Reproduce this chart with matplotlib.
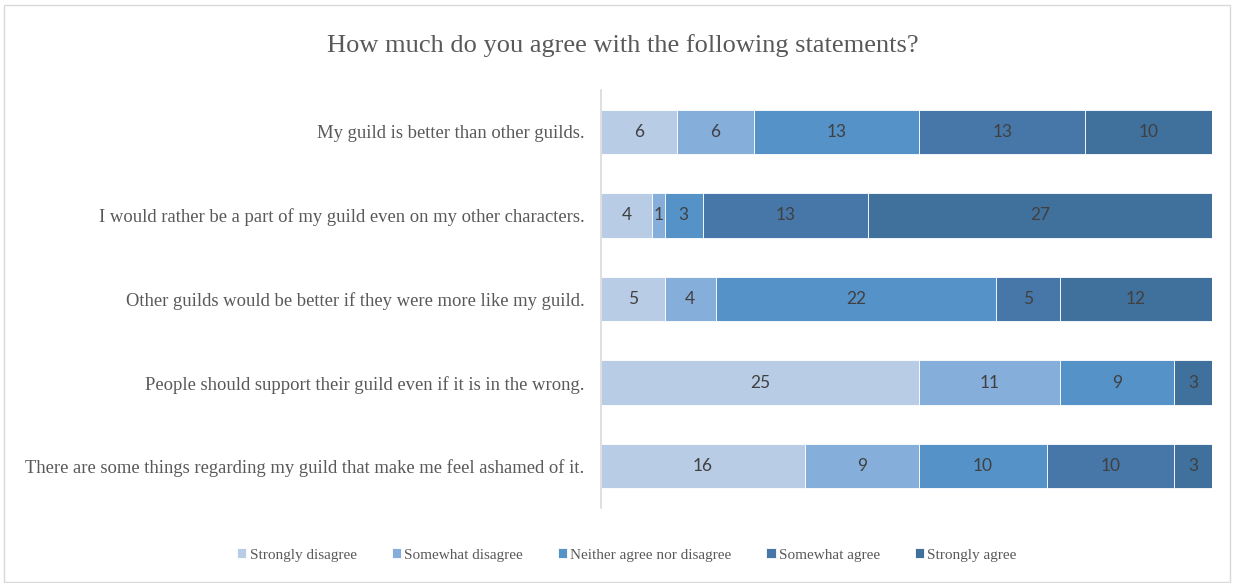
import matplotlib
matplotlib.use("Agg")
import matplotlib.pyplot as plt
from matplotlib.patches import Rectangle
import numpy as np

statements = [
    "My guild is better than other guilds.",
    "I would rather be a part of my guild even on my other characters.",
    "Other guilds would be better if they were more like my guild.",
    "People should support their guild even if it is in the wrong.",
    "There are some things regarding my guild that make me feel ashamed of it.",
]
responses = [
    "Strongly disagree",
    "Somewhat disagree",
    "Neither agree nor disagree",
    "Somewhat agree",
    "Strongly agree",
]
strongly_disagree = [6, 4, 5, 25, 16]
somewhat_disagree = [6, 1, 4, 11, 9]
neither = [13, 3, 22, 9, 10]
somewhat_agree = [13, 13, 5, 0, 10]
strongly_agree = [10, 27, 12, 3, 3]

colors = ["#B8CCE6", "#86AEDB", "#5592C8", "#4677A8", "#40709C"]
series = [strongly_disagree, somewhat_disagree, neither, somewhat_agree, strongly_agree]

serif = "Liberation Serif"
label_font = "Lato"

fig = plt.figure(figsize=(12.34, 5.83), dpi=100)
fig.patches.append(Rectangle((0.003, 0.002), 0.994, 0.990, transform=fig.transFigure,
                             fill=False, edgecolor="#D9D9D9", linewidth=1.0))

ax = fig.add_axes([0.487, 0.1286, 0.4955, 0.717])
y = np.arange(len(statements))
left = np.zeros(len(statements))
for vals, col, name in zip(series, colors, responses):
    vals = np.array(vals, dtype=float)
    ax.barh(y, vals, left=left, height=0.53, color=col, edgecolor="white",
            linewidth=0.6, label=name)
    for yi, v, l in zip(y, vals, left):
        if v > 0:
            ax.text(l + v / 2, yi, f"{int(v)}", ha="center", va="center",
                    fontsize=12.5, color="#404040", family=label_font)
    left += vals

ax.set_xlim(0, 48)
ax.set_ylim(len(statements) - 0.5, -0.5)
ax.set_yticks(y)
ax.set_yticklabels(statements, family=serif, fontsize=13.4, color="#595959")
ax.tick_params(axis="y", length=0, pad=12)
ax.set_xticks([])
for s in ["top", "right", "bottom"]:
    ax.spines[s].set_visible(False)
ax.spines["left"].set_color("#D9D9D9")
ax.spines["left"].set_linewidth(1.2)

fig.text(0.505, 0.922, "How much do you agree with the following statements?",
         ha="center", va="center", family=serif, fontsize=19, color="#595959")

handles, labs = ax.get_legend_handles_labels()
fig.legend(handles, labs, loc="center", bbox_to_anchor=(0.508, 0.048), ncol=5,
           frameon=False, prop={"family": serif, "size": 11},
           handlelength=0.6, handleheight=0.6, handletextpad=0.2,
           columnspacing=2.3, labelcolor="#595959")

fig.savefig("out.png", dpi=100)
